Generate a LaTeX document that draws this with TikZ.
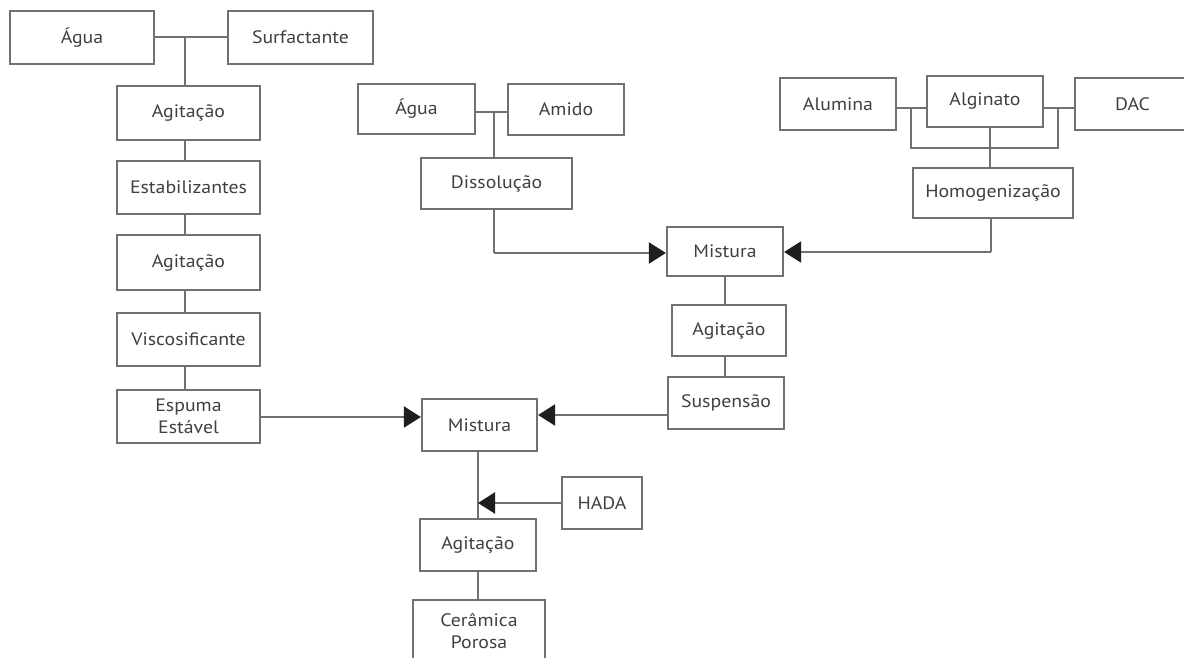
\documentclass[tikz,border=0pt]{standalone}
\usepackage{fontspec}
\setmainfont{PT Sans}[FakeStretch=1.1]
\usetikzlibrary{arrows.meta}
\definecolor{linec}{HTML}{707070}
\definecolor{textc}{HTML}{404040}
\definecolor{tipc}{HTML}{1E1E1E}
\tikzset{
  box/.style={draw=linec, line width=2.2pt, inner sep=0pt, align=center,
    text=textc, font=\fontsize{18}{22}\selectfont},
  conn/.style={draw=linec, line width=2.2pt},
  arr/.style={conn, -{Triangle[length=17pt,width=21pt,fill=tipc,color=tipc]}}
}
\newcommand{\bx}[7]{% name, x1, x2, y1, y2, text
  \node[box, minimum width={(#3)-(#2)}, minimum height={(#5)-(#4)}] (#1) at ({((#2)+(#3))/2},{((#4)+(#5))/2}) {#6#7};}
\begin{document}
\begin{tikzpicture}[x=1pt,y=-1pt]
\useasboundingbox (0,0) rectangle (1184,658);
\clip (0,0) rectangle (1184,658);
\fill[white] (0,0) rectangle (1184,658);
% left column
\bx{agua1}{10}{154}{11}{64}{Água}{}
\bx{surf}{228}{373}{11}{64}{Surfactante}{}
\bx{ag1}{117}{260}{86}{140}{Agitação}{}
\bx{estab}{117}{260}{161}{214}{Estabilizantes}{}
\bx{ag2}{117}{260}{235}{290}{Agitação}{}
\bx{visc}{117}{260}{313}{366}{Viscosificante}{}
\bx{esp}{117}{260}{390}{443}{Espuma\\Estável}{}
% middle
\bx{agua2}{358}{475}{84}{134}{Água}{}
\bx{amido}{508}{624}{84}{135}{Amido}{}
\bx{diss}{421}{572}{158}{209}{Dissolução}{}
\bx{mist1}{667}{783}{227}{276}{Mistura}{}
\bx{ag4}{672}{786}{305}{356}{Agitação}{}
\bx{susp}{668}{784}{377}{429}{Suspensão}{}
% right
\bx{alum}{780}{896}{78}{130}{Alumina}{}
\bx{algin}{927}{1043}{76}{127}{Alginato}{}
\bx{dac}{1075}{1190}{78}{130}{DAC}{}
\bx{homog}{913}{1073}{168}{218}{Homogenização}{}
% bottom
\bx{mist2}{422}{537}{399}{451}{Mistura}{}
\bx{hada}{562}{642}{477}{529}{HADA}{}
\bx{ag3}{420}{536}{519}{571}{Agitação}{}
\bx{ceram}{413}{545}{600}{663}{Cerâmica\\Porosa}{}
% coordinates
\coordinate (j1) at (185,37);
\coordinate (j2) at (494,112);
\coordinate (b1) at (911,108);
\coordinate (b2) at (1058,108);
\coordinate (j3) at (990,148);
\coordinate (d1) at (494,253);
\coordinate (h1) at (991,252);
\coordinate (v2) at (478,0);
\coordinate (e1) at (260,417);
% left column connectors
\draw[conn] (agua1.east |- j1) -- (surf.west |- j1);
\draw[conn] (j1) -- (j1 |- ag1.north);
\draw[conn] (ag1.south -| j1) -- (estab.north -| j1);
\draw[conn] (estab.south -| j1) -- (ag2.north -| j1);
\draw[conn] (ag2.south -| j1) -- (visc.north -| j1);
\draw[conn] (visc.south -| j1) -- (esp.north -| j1);
\draw[arr] (esp.east |- e1) -- (e1 -| mist2.west);
% middle connectors
\draw[conn] (agua2.east |- j2) -- (amido.west |- j2);
\draw[conn] (j2) -- (j2 |- diss.north);
\draw[conn] (diss.south -| j2) -- (d1);
\draw[arr] (d1) -- (d1 -| mist1.west);
\draw[conn] (mist1.south) -- (mist1.south |- ag4.north);
\draw[conn] (ag4.south -| mist1.south) -- (susp.north -| mist1.south);
\draw[arr] ([yshift=-12pt]susp.west) -- ([yshift=-12pt]susp.west -| mist2.east);
% right connectors
\draw[conn] (alum.east |- b1) -- (algin.west |- b1);
\draw[conn] (algin.east |- b2) -- (dac.west |- b2);
\draw[conn] (b1) -- (b1 |- j3) -- (b2 |- j3) -- (b2);
\draw[conn] (algin.south -| j3) -- (homog.north -| j3);
\draw[conn] (homog.south -| h1) -- (h1);
\draw[arr] (h1) -- (h1 -| mist1.east);
% bottom connectors
\draw[conn] (mist2.south -| v2) -- (ag3.north -| v2);
\draw[arr] (hada.west) -- (hada.west -| v2);
\draw[conn] (ag3.south -| v2) -- (ceram.north -| v2);
\end{tikzpicture}
\end{document}
